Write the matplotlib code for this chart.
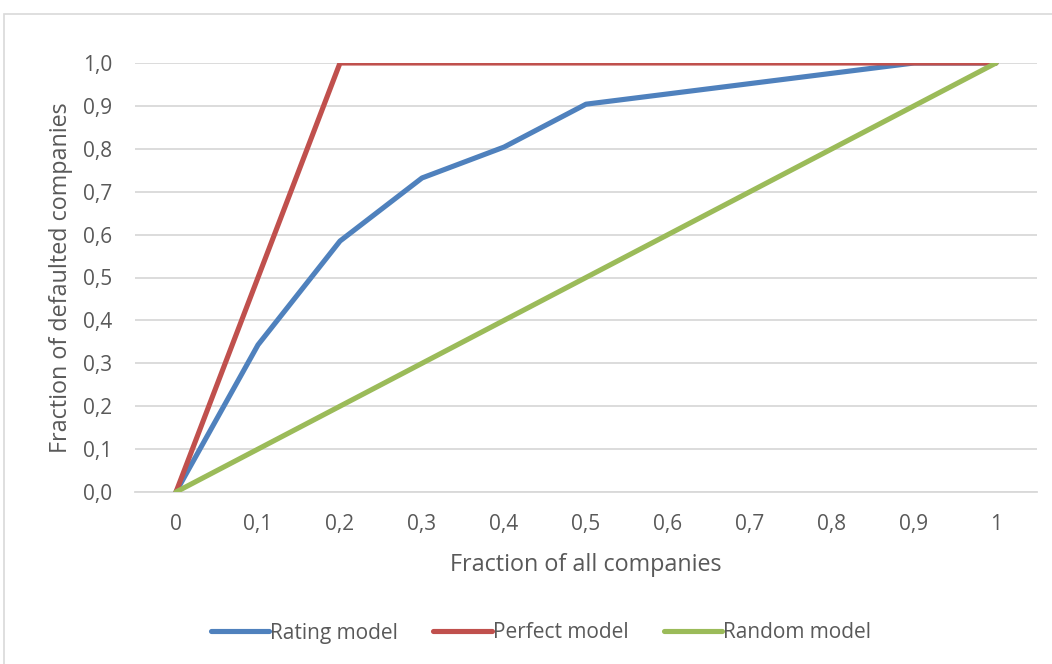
import matplotlib.pyplot as plt
from matplotlib.patches import Rectangle

# data
x_labels = ["0", "0,1", "0,2", "0,3", "0,4", "0,5", "0,6", "0,7", "0,8", "0,9", "1"]
x_values = [0.0, 0.1, 0.2, 0.3, 0.4, 0.5, 0.6, 0.7, 0.8, 0.9, 1.0]
rating_model = [0.0, 0.343, 0.585, 0.732, 0.804, 0.904, 0.928, 0.952, 0.976, 1.0, 1.0]
perfect_model = [0.0, 0.5, 1.0, 1.0, 1.0, 1.0, 1.0, 1.0, 1.0, 1.0, 1.0]
random_model = [0.0, 0.1, 0.2, 0.3, 0.4, 0.5, 0.6, 0.7, 0.8, 0.9, 1.0]
y_ticks = [0.0, 0.1, 0.2, 0.3, 0.4, 0.5, 0.6, 0.7, 0.8, 0.9, 1.0]

plt.rcParams["font.family"] = ["Open Sans", "DejaVu Sans"]
text_color = "#595959"
grid_color = "#D9D9D9"

fig = plt.figure(figsize=(10.52, 6.64), dpi=100)
# outer chart frame, as in Excel
fig.patches.append(Rectangle((4 / 1052, -0.1), 1.2, (664 - 14) / 664 + 0.1,
                             transform=fig.transFigure, fill=False,
                             edgecolor=grid_color, linewidth=1.2))

ax = fig.add_axes([135 / 1052, (664 - 492) / 664, (1037 - 135) / 1052, (492 - 63) / 664])

ax.plot(x_values, rating_model, color="#4F81BD", lw=3.7, label="Rating model",
        solid_joinstyle="round", solid_capstyle="round")
ax.plot(x_values, perfect_model, color="#C0504D", lw=3.7, label="Perfect model",
        solid_joinstyle="round", solid_capstyle="round")
ax.plot(x_values, random_model, color="#9BBB59", lw=3.7, label="Random model",
        solid_joinstyle="round", solid_capstyle="round")

ax.set_xlim(-0.05, 1.05)
ax.set_ylim(0, 1.0)
ax.set_xticks(x_values)
ax.set_xticklabels(x_labels)
ax.set_yticks(y_ticks)
ax.set_yticklabels([f"{v:.1f}".replace(".", ",") for v in y_ticks])

ax.grid(axis="y", color=grid_color, lw=1.3)
ax.set_axisbelow(True)
for side in ["top", "right", "left"]:
    ax.spines[side].set_visible(False)
ax.spines["bottom"].set_color(grid_color)
ax.spines["bottom"].set_linewidth(1.3)
ax.spines["bottom"].set_zorder(0)
ax.tick_params(axis="both", length=0, labelsize=15, labelcolor=text_color)
ax.tick_params(axis="x", pad=16)
ax.tick_params(axis="y", pad=16.5)

ax.set_xlabel("Fraction of all companies", fontsize=16.8, color=text_color, labelpad=13)
ax.set_ylabel("Fraction of defaulted companies", fontsize=16.8, color=text_color, labelpad=7)

fig.legend(loc="center", bbox_to_anchor=(541 / 1052, (664 - 633) / 664), ncol=3,
           frameon=False, fontsize=15, labelcolor=text_color,
           handlelength=2.8, handletextpad=0.05, columnspacing=1.7)

fig.savefig("out.png", dpi=100)
